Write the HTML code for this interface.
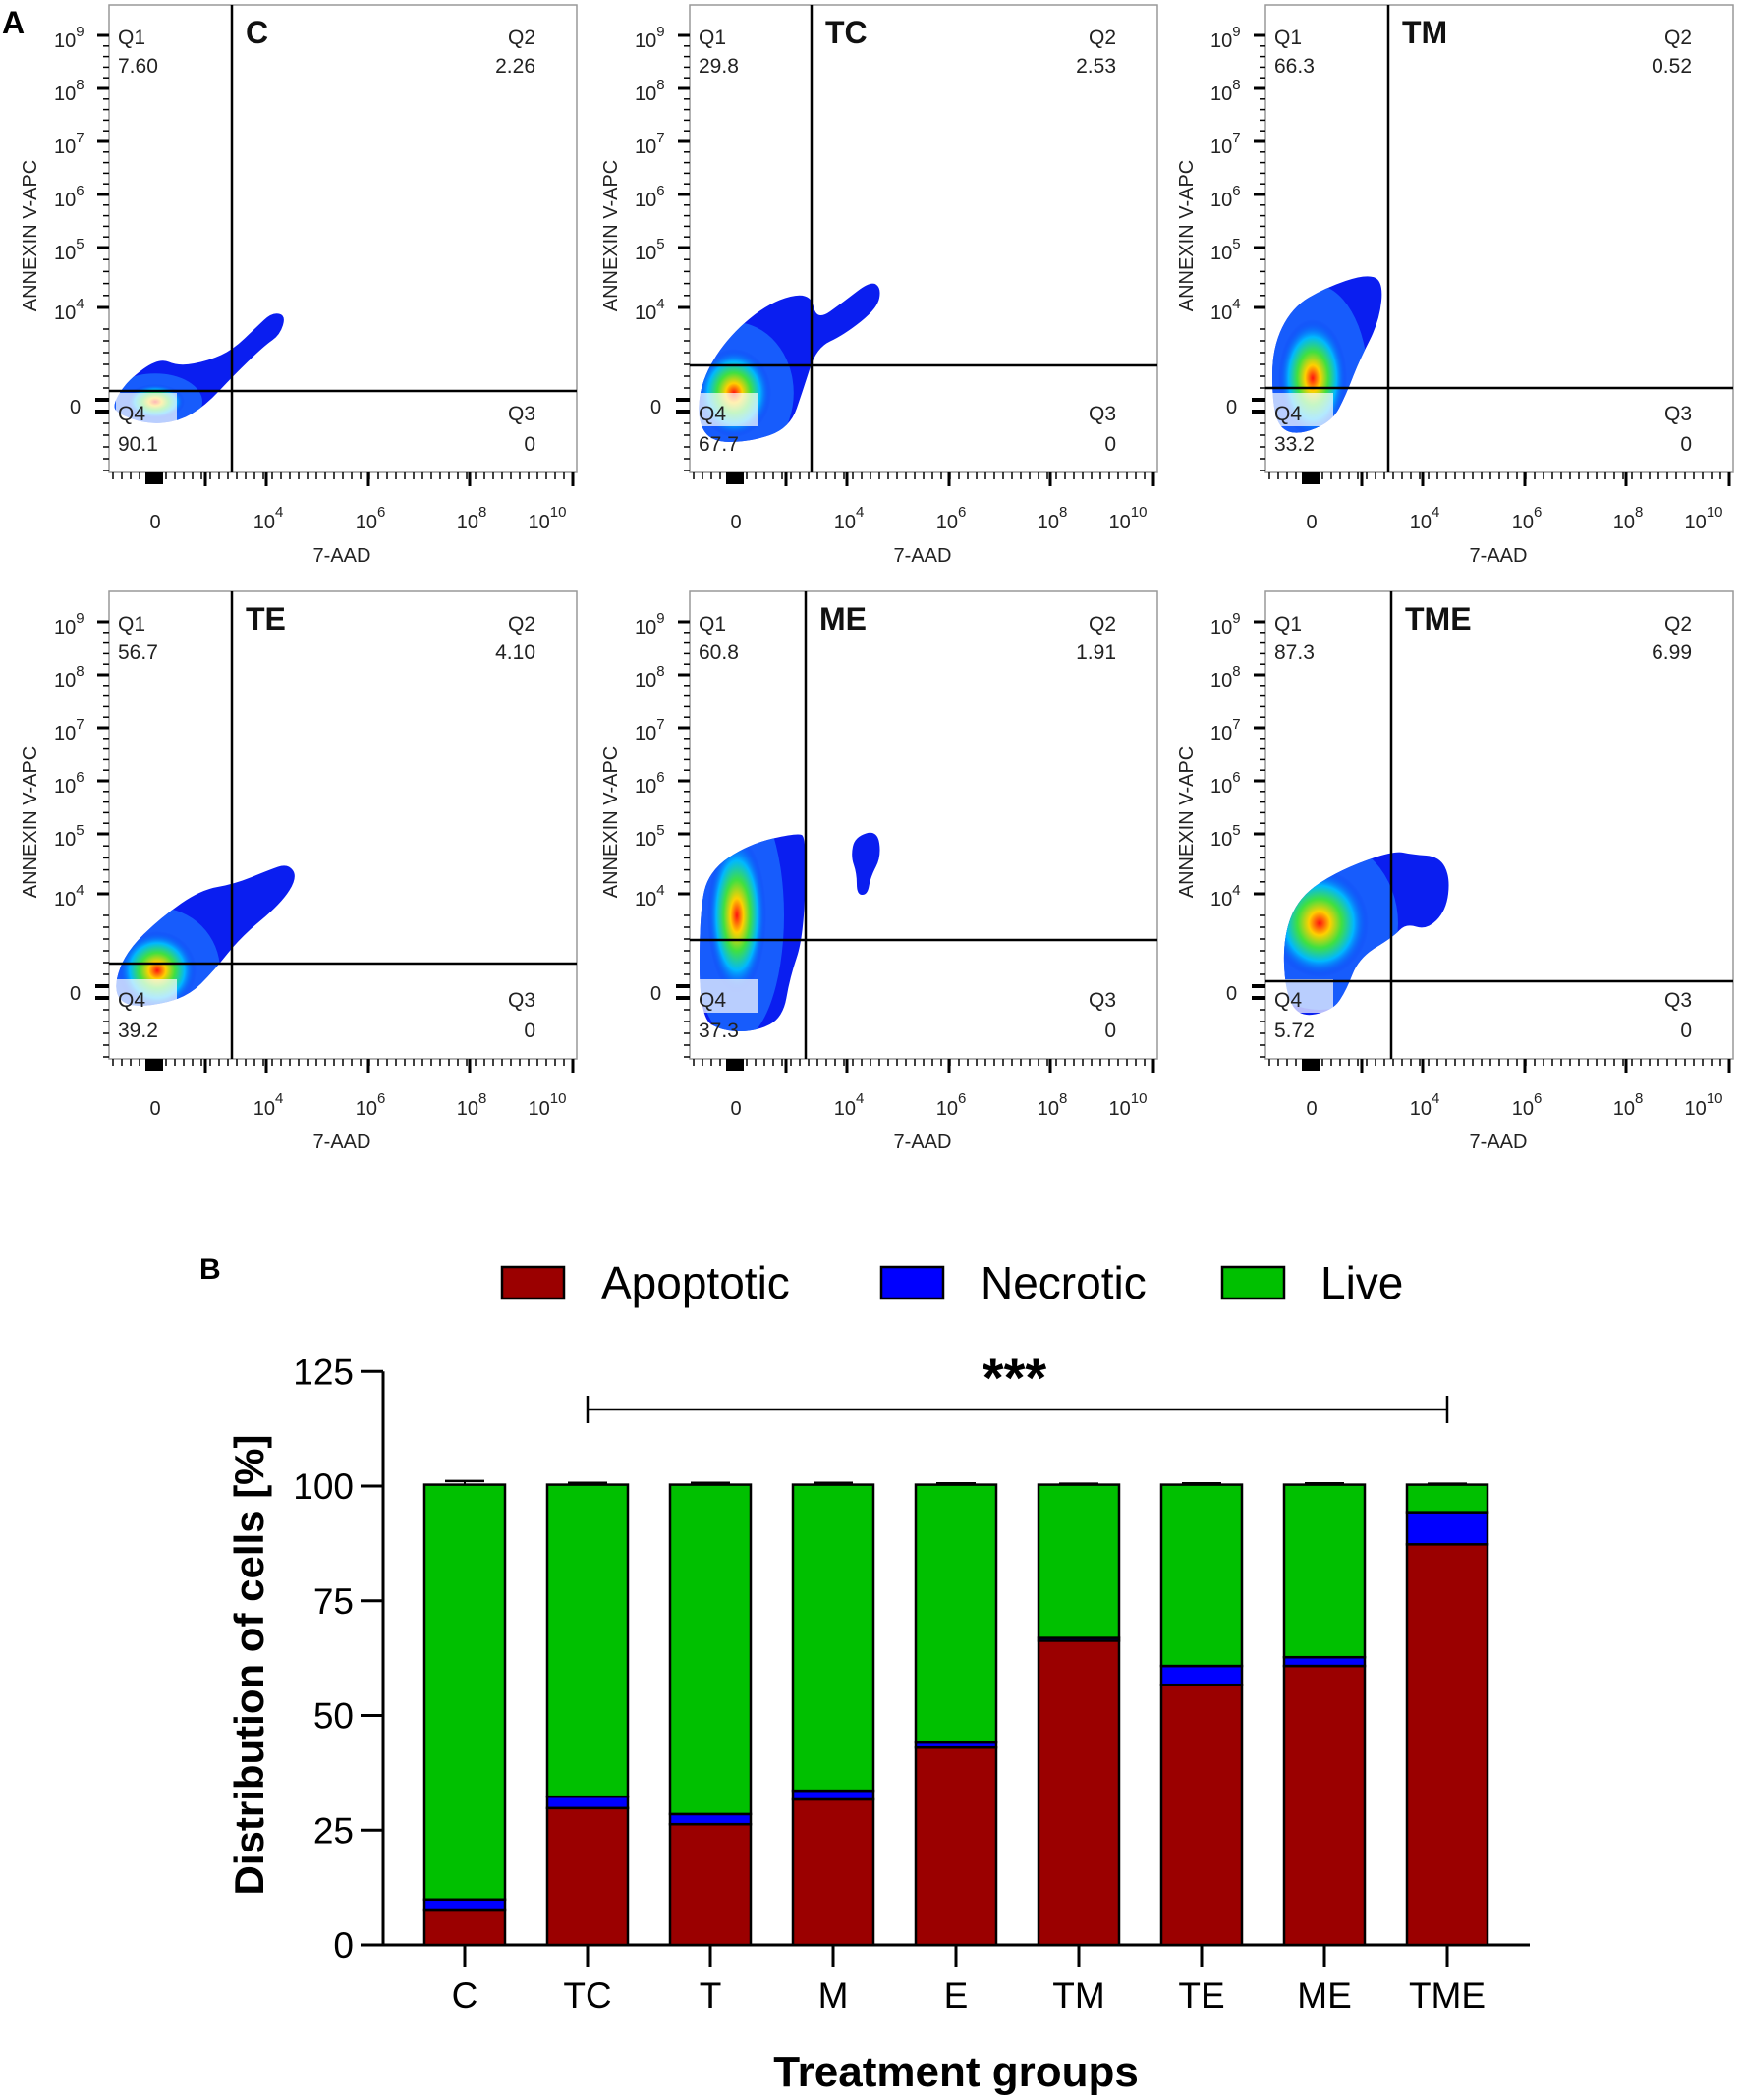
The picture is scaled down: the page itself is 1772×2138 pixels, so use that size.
<!DOCTYPE html>
<html><head><meta charset="utf-8"><style>
html,body{margin:0;padding:0;background:#fff;}
svg{display:block;font-family:"Liberation Sans",Arial,sans-serif;}
</style></head><body>
<svg id="root" width="1772" height="2138" viewBox="0 0 1772 2138" xmlns="http://www.w3.org/2000/svg">
<defs>
<radialGradient id="heat" cx="0.5" cy="0.5" r="0.5">
<stop offset="0" stop-color="#ff1010"/>
<stop offset="0.22" stop-color="#ffd000"/>
<stop offset="0.45" stop-color="#40e040"/>
<stop offset="0.7" stop-color="#00b8ff"/>
<stop offset="1" stop-color="#0a2cf0" stop-opacity="0"/>
</radialGradient>
</defs>
<text x="2" y="34" font-size="32" font-weight="bold">A</text>
<text x="203" y="1302" font-size="30" font-weight="bold">B</text>
<g id="flow"></g>
<g id="bars"></g>
</svg>
<script>
// ---------- Bar chart data ----------
const categories = ["C","TC","T","M","E","TM","TE","ME","TME"];
const apoptotic = [7.5, 29.8, 26.3, 31.7, 43.0, 66.3, 56.7, 60.8, 87.3];
const necrotic  = [2.4, 2.5, 2.2, 1.9, 1.1, 0.6, 4.1, 1.9, 7.0];
const live      = [90.4, 68.0, 71.8, 66.7, 56.2, 33.4, 39.5, 37.6, 6.0];
const errors    = [0.8, 0.4, 0.4, 0.4, 0.3, 0.2, 0.3, 0.3, 0.2];
const yTicks    = [0, 25, 50, 75, 100, 125];
const legendLabels = ["Apoptotic","Necrotic","Live"];

// ---------- Flow panel data ----------
const panelNames = ["C","TC","TM","TE","ME","TME"];
const q1Values = ["7.60","29.8","66.3","56.7","60.8","87.3"];
const q2Values = ["2.26","2.53","0.52","4.10","1.91","6.99"];
const q4Values = ["90.1","67.7","33.2","39.2","37.3","5.72"];
const q3Values = ["0","0","0","0","0","0"];

const NS = "http://www.w3.org/2000/svg";
function mk(tag, attrs, parent){
  const e = document.createElementNS(NS, tag);
  for (const k in attrs) e.setAttribute(k, attrs[k]);
  parent.appendChild(e);
  return e;
}

// ---------- Flow panels ----------
const flow = document.getElementById('flow');
const panelBoxes = [[111,5],[702,5],[1288,5],[111,602],[702,602],[1288,602]];
const quadV = [125,124,125,125,118,128];
const quadH = [393,367,390,379,355,397];
const blobs = [
  [[[4,406],[19,382],[51,359],[71,368],[102,362],[126,351],[150,328],[166,313],[180,316],[174,336],[158,347],[126,378],[98,408],[71,424],[39,427],[8,416]]],
  [[[7,418],[14,377],[41,336],[82,302],[123,292],[129,322],[157,302],[184,281],[195,288],[191,309],[157,336],[129,349],[116,390],[102,431],[61,445],[20,445]]],
  [[[7,404],[7,349],[27,308],[61,288],[102,274],[120,281],[116,322],[95,363],[82,397],[68,424],[34,438],[14,431]]],
  [[[5,400],[18,366],[53,332],[93,304],[128,298],[162,284],[182,277],[192,291],[175,318],[134,352],[107,386],[80,413],[39,423],[12,420]]],
  [[[10,434],[10,325],[20,284],[61,257],[109,246],[119,250],[116,352],[102,393],[95,434],[68,448],[34,448]],
   [[168,250],[191,243],[195,270],[184,291],[181,309],[170,309],[170,287],[164,270]]],
  [[[20,407],[18,352],[34,311],[75,284],[130,264],[150,268],[177,270],[188,291],[184,325],[164,345],[143,338],[130,352],[95,373],[82,407],[68,427],[34,434]]]
];
const hot = [[47,404,30,18],[45,395,38,45],[48,380,35,60],[49,386,40,40],[48,330,30,80],[55,338,50,55]];

function smoothPath(pts){
  const n = pts.length;
  let d = "M" + ((pts[n-1][0]+pts[0][0])/2) + "," + ((pts[n-1][1]+pts[0][1])/2);
  for (let i=0;i<n;i++){
    const p = pts[i], q = pts[(i+1)%n];
    d += " Q" + p[0] + "," + p[1] + " " + ((p[0]+q[0])/2) + "," + ((p[1]+q[1])/2);
  }
  return d + "Z";
}

panelNames.forEach((name, i) => {
  const [L, T] = panelBoxes[i];
  const g = mk('g', {transform:`translate(${L},${T})`}, flow);
  
  
  const clipId = 'clip' + i;
  const cp = mk('clipPath', {id: clipId}, g);
  let dAll = "";
  blobs[i].forEach(pts => { dAll += smoothPath(pts); });
  mk('path', {d: dAll}, cp);
  const bl = mk('path', {d: dAll, fill:'#0a1ef0'}, g);
  
  
  const hg = mk('g', {'clip-path':`url(#${clipId})`}, g);
  mk('ellipse', {cx:hot[i][0], cy:hot[i][1], rx:hot[i][2]*1.6, ry:hot[i][3]*1.6, fill:'#1a6cff', opacity:'0.8'}, hg);
  mk('ellipse', {cx:hot[i][0], cy:hot[i][1], rx:hot[i][2], ry:hot[i][3], fill:'url(#heat)'}, hg);
  mk('rect', {x:7, y:395, width:62, height:34, fill:'#fff', opacity:'0.7'}, g);
  const fr = mk('rect', {x:0, y:0, width:476, height:476, fill:'none', stroke:'#999', 'stroke-width':1.5}, g);
  
  
  const vl = mk('line', {x1:quadV[i], y1:0, x2:quadV[i], y2:476, stroke:'#000', 'stroke-width':2.5}, g);
  
  
  const hl = mk('line', {x1:0, y1:quadH[i], x2:476, y2:quadH[i], stroke:'#000', 'stroke-width':2.5}, g);
  
  
  const yDec = [31,85,139,193,247,308];
  const yExp = ["9","8","7","6","5","4"];
  yDec.forEach((y, k) => {
    mk('line', {x1:-12, y1:y, x2:0, y2:y, stroke:'#000', 'stroke-width':3}, g);
    if (k < yDec.length-1) {
      const nx = yDec[k+1];
      for (let m=1;m<5;m++) mk('line', {x1:-6, y1:y+(nx-y)*m/5, x2:0, y2:y+(nx-y)*m/5, stroke:'#000', 'stroke-width':1.5}, g);
    }
    const t = mk('text', {x:-56, y:y+12, 'font-size':20, fill:'#222'}, g);
    t.textContent = "10";
    const s = mk('tspan', {dy:-11, 'font-size':15}, t);
    s.textContent = yExp[k];
  });
  for (let y=330;y<=476;y+=12) mk('line', {x1:(y>395&&y<425)?-14:-6, y1:y, x2:0, y2:y, stroke:'#000', 'stroke-width':(y>395&&y<425)?4:1.5}, g);
  const z = mk('text', {x:-40, y:416, 'font-size':20, fill:'#222'}, g);
  z.textContent = "0";
  const xDec = [98,160,264,367,472];
  for (let x=4;x<476;x+=9) mk('line', {x1:x, y1:476, x2:x, y2:483, stroke:'#000', 'stroke-width':1.5}, g);
  xDec.forEach(x => mk('line', {x1:x, y1:476, x2:x, y2:490, stroke:'#000', 'stroke-width':3}, g));
  mk('rect', {x:37, y:476, width:18, height:12, fill:'#000'}, g);
  const xl = [[47,"0",""],[162,"10","4"],[266,"10","6"],[369,"10","8"],[446,"10","10"]];
  xl.forEach(([x, b, e]) => {
    const t = mk('text', {x:x, y:533, 'font-size':20, fill:'#222', 'text-anchor':'middle'}, g);
    t.textContent = b;
    if (e) { const s = mk('tspan', {dy:-12, 'font-size':15}, t); s.textContent = e; }
  });
  const xt = mk('text', {x:237, y:567, 'font-size':20, fill:'#222', 'text-anchor':'middle'}, g);
  xt.textContent = "7-AAD";
  
  
  const yt = mk('text', {x:0, y:0, 'font-size':20, fill:'#222', 'text-anchor':'middle', transform:'translate(-74,235) rotate(-90)'}, g);
  yt.textContent = "ANNEXIN V-APC";
  
  
  const tt = mk('text', {x:quadV[i]+14, y:39, 'font-size':32, 'font-weight':'bold', fill:'#111'}, g);
  tt.textContent = name;
  
  
  const labs = [[9,40,'start',"Q1"],[9,69,'start',q1Values[i]],[434,40,'end',"Q2"],[434,69,'end',q2Values[i]],
                [9,423,'start',"Q4"],[9,454,'start',q4Values[i]],[434,423,'end',"Q3"],[434,454,'end',q3Values[i]]];
  labs.forEach(([x,y,a,s]) => {
    const t = mk('text', {x:x, y:y, 'font-size':21, fill:'#222', 'text-anchor':a}, g);
    t.textContent = s;
    
    
  });
});

// ---------- Bar chart ----------
const bars = document.getElementById('bars');
const X0 = 390, XEND = 1557, Y0 = 1980, PXU = 4.67;
const firstCenter = 473, step = 125, barW = 82;
const yPos = v => Y0 - v * PXU;
const xPos = i => firstCenter + i * step;
const colors = ["#9b0000","#0000ff","#00c000"];

const ya = mk('line', {x1:X0, y1:yPos(125), x2:X0, y2:Y0+1, stroke:'#000', 'stroke-width':3}, bars);


const xa = mk('line', {x1:X0-23, y1:Y0, x2:XEND, y2:Y0, stroke:'#000', 'stroke-width':3}, bars);


yTicks.forEach(v => {
  mk('line', {x1:X0-23, y1:yPos(v), x2:X0, y2:yPos(v), stroke:'#000', 'stroke-width':3}, bars);
  const t = mk('text', {x:X0-30, y:yPos(v)+13, 'font-size':37, 'text-anchor':'end'}, bars);
  t.textContent = String(v);
  
  
});
categories.forEach((c, i) => {
  const cx = xPos(i);
  mk('line', {x1:cx, y1:Y0, x2:cx, y2:Y0+23, stroke:'#000', 'stroke-width':3}, bars);
  const t = mk('text', {x:cx, y:2044, 'font-size':37, 'text-anchor':'middle'}, bars);
  t.textContent = c;
  
  
  const segs = [apoptotic[i], necrotic[i], live[i]];
  let base = 0;
  segs.forEach((v, k) => {
    const r = mk('rect', {x:cx-barW/2, y:yPos(base+v), width:barW, height:v*PXU, fill:colors[k], stroke:'#000', 'stroke-width':2.5}, bars);
    
    
    base += v;
  });
  const top = base, e = errors[i];
  mk('line', {x1:cx, y1:yPos(top), x2:cx, y2:yPos(top+e), stroke:'#000', 'stroke-width':2}, bars);
  const eb = mk('line', {x1:cx-20, y1:yPos(top+e), x2:cx+20, y2:yPos(top+e), stroke:'#000', 'stroke-width':2.5}, bars);
  
  
});
const b1 = xPos(1), b2 = xPos(8), by = 1435;
const br = mk('path', {d:`M${b1},${by-14} V${by+14} M${b1},${by} H${b2} M${b2},${by-14} V${by+14}`, stroke:'#000', 'stroke-width':2.5, fill:'none'}, bars);


const st = mk('text', {x:(b1+b2)/2-3, y:1422, 'font-size':56, 'font-weight':'bold', 'text-anchor':'middle'}, bars);
st.textContent = "***";


const yTitle = mk('text', {x:0, y:0, 'font-size':42, 'font-weight':'bold', 'text-anchor':'middle', transform:'translate(268,1695) rotate(-90)'}, bars);
yTitle.textContent = "Distribution of cells [%]";


const xTitle = mk('text', {x:973, y:2124, 'font-size':44, 'font-weight':'bold', 'text-anchor':'middle'}, bars);
xTitle.textContent = "Treatment groups";


const legBox = [511, 897, 1244];
const legText = [612, 998, 1344];
legendLabels.forEach((l, k) => {
  const r = mk('rect', {x:legBox[k], y:1290, width:63, height:32, fill:colors[k], stroke:'#000', 'stroke-width':2.5}, bars);
  
  
  const t = mk('text', {x:legText[k], y:1322, 'font-size':46}, bars);
  t.textContent = l;
  
  
});
</script>
</body></html>
